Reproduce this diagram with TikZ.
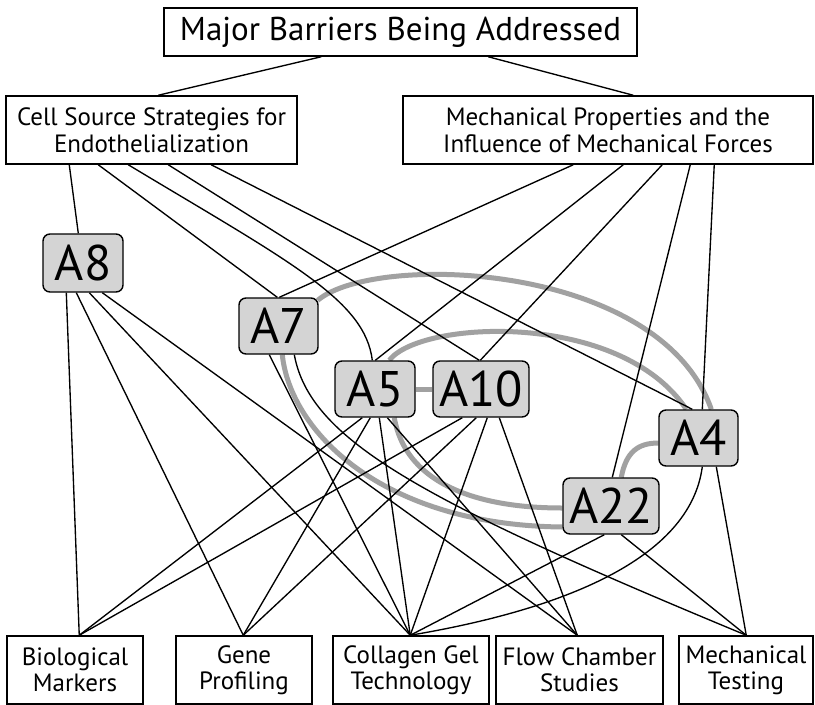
\documentclass[tikz,border=0pt]{standalone}
\usepackage{fontspec}
\setmainfont{PT Sans}
\definecolor{labgray}{gray}{0.83}
\definecolor{linkgray}{gray}{0.63}
\pgfdeclarelayer{paper}
\pgfdeclarelayer{edges}
\pgfsetlayers{paper,edges,main}
\begin{document}
\begin{tikzpicture}[x=1pt,y=-1pt,
  box/.style={draw=black, line width=1.5pt, fill=white, rectangle, inner sep=0pt, align=center},
  lab/.style={draw=black, line width=1.4pt, fill=labgray, rounded corners=7pt, inner sep=0pt,
    font=\fontsize{50}{50}\selectfont},
  link/.style={black, line width=1.35pt},
  collab/.style={linkgray, line width=5pt},
]
\begin{pgfonlayer}{paper}
\fill[white] (0,0) rectangle (815,705);
\end{pgfonlayer}
\useasboundingbox (0,0) rectangle (815,705);

% barrier headings
\node[box, minimum width=473pt, minimum height=48pt, font=\fontsize{33}{33}\selectfont]
  (top) at (400.5,32) {Major Barriers Being Addressed};
\node[box, minimum width=291pt, minimum height=68pt, font=\fontsize{25}{27}\selectfont]
  (cell) at (151.5,130) {Cell Source Strategies for\\Endothelialization};
\node[box, minimum width=410pt, minimum height=68pt, font=\fontsize{25}{27}\selectfont]
  (mech) at (608,130) {Mechanical Properties and the\\Influence of Mechanical Forces};

% labs
\node[lab, minimum width=80pt, minimum height=58pt] (A8) at (83,263) {A8};
\node[lab, minimum width=79pt, minimum height=56pt] (A7) at (278.5,326) {A7};
\node[lab, minimum width=80pt, minimum height=56pt] (A5) at (375,389) {A5};
\node[lab, minimum width=96pt, minimum height=56pt] (A10) at (481,389) {A10};
\node[lab, minimum width=79pt, minimum height=56pt] (A4) at (698.5,438) {A4};
\node[lab, minimum width=96pt, minimum height=56pt] (A22) at (611,506) {A22};

% technologies
\begin{scope}[every node/.style={box, minimum height=68pt, font=\fontsize{25}{26}\selectfont}]
\node[minimum width=136pt] (bio) at (75,670) {Biological\\Markers};
\node[minimum width=136pt] (gene) at (244,670) {Gene\\Profiling};
\node[minimum width=156pt] (coll) at (411,670) {Collagen Gel\\Technology};
\node[minimum width=167pt] (flow) at (579.5,670) {Flow Chamber\\Studies};
\node[minimum width=134pt] (mtest) at (746,670) {Mechanical\\Testing};
\end{scope}

\begin{pgfonlayer}{edges}
% collaborations between labs
\draw[collab] (A5.east) -- (A10.west);
\draw[collab] ([xshift=-1pt,yshift=-3pt]A7.north east) .. controls (375,252) and (660,262) .. ([xshift=53pt]A4.north west);
\draw[collab] ([xshift=55pt]A5.north west) .. controls (420,320) and (620,310) .. ([xshift=28pt]A4.north west);
\draw[collab] ([xshift=60pt]A5.south west) .. controls (405,480) and (470,508) .. ([yshift=-2pt]A22.west);
\draw[collab] ([xshift=44pt]A7.south west) .. controls (290,430) and (380,525) .. ([yshift=-21pt]A22.west);
\draw[collab] ([xshift=59pt]A22.north west) .. controls (626,452) and (638,443) .. ([yshift=-5pt]A4.west);

% headings
\draw[link] ([xshift=158pt]top.south west) -- ([xshift=153pt]cell.north west);
\draw[link] ([xshift=325pt]top.south west) -- ([xshift=231pt]mech.north west);

% cell source strategies
\draw[link] ([xshift=64pt]cell.south west) -- ([xshift=36pt]A8.north west);
\draw[link] ([xshift=93pt]cell.south west) -- ([xshift=39pt]A7.north west);
\draw[link] ([xshift=123pt]cell.south west) .. controls (290,262) and (365,300) .. ([xshift=38pt]A5.north west);
\draw[link] ([xshift=163pt]cell.south west) -- ([xshift=47pt]A10.north west);
\draw[link] ([xshift=206pt]cell.south west) -- ([xshift=34pt]A4.north west);

% mechanical properties
\draw[link] ([xshift=171pt]mech.south west) -- ([xshift=41pt]A7.north west);
\draw[link] ([xshift=221pt]mech.south west) -- ([xshift=41pt]A5.north west);
\draw[link] ([xshift=260pt]mech.south west) -- ([xshift=48pt]A10.north west);
\draw[link] ([xshift=288pt]mech.south west) -- ([xshift=50pt]A22.north west);
\draw[link] ([xshift=312pt]mech.south west) -- ([xshift=44pt]A4.north west);

% A8
\draw[link] ([xshift=24pt]A8.south west) -- ([xshift=73pt]bio.north west);
\draw[link] ([xshift=34pt]A8.south west) -- ([xshift=68pt]gene.north west);
\draw[link] ([xshift=47pt]A8.south west) -- ([xshift=78pt]coll.north west);
\draw[link] ([xshift=60pt]A8.south west) -- ([xshift=82pt]flow.north west);
% A7
\draw[link] ([xshift=31pt]A7.south west) -- ([xshift=78pt]coll.north west);
\draw[link] ([xshift=56pt]A7.south west) .. controls (310,440) and (420,500) .. ([xshift=68pt]mtest.north west);
% A5
\draw[link] ([xshift=28pt]A5.south west) -- ([xshift=73pt]bio.north west);
\draw[link] ([xshift=36pt]A5.south west) -- ([xshift=68pt]gene.north west);
\draw[link] ([xshift=45pt]A5.south west) -- ([xshift=78pt]coll.north west);
\draw[link] ([xshift=53pt]A5.south west) -- ([xshift=82pt]flow.north west);
% A10
\draw[link] ([xshift=30pt]A10.south west) -- ([xshift=73pt]bio.north west);
\draw[link] ([xshift=44pt]A10.south west) -- ([xshift=68pt]gene.north west);
\draw[link] ([xshift=55pt]A10.south west) -- ([xshift=78pt]coll.north west);
\draw[link] ([xshift=67pt]A10.south west) -- ([xshift=82pt]flow.north west);
% A22
\draw[link] ([xshift=42pt]A22.south west) -- ([xshift=78pt]coll.north west);
\draw[link] ([xshift=59pt]A22.south west) -- ([xshift=68pt]mtest.north west);
% A4
\draw[link] ([xshift=44pt]A4.south west) .. controls (690,560) and (560,610) .. ([xshift=78pt]coll.north west);
\draw[link] ([xshift=58pt]A4.south west) -- ([xshift=68pt]mtest.north west);
\end{pgfonlayer}
\end{tikzpicture}
\end{document}
